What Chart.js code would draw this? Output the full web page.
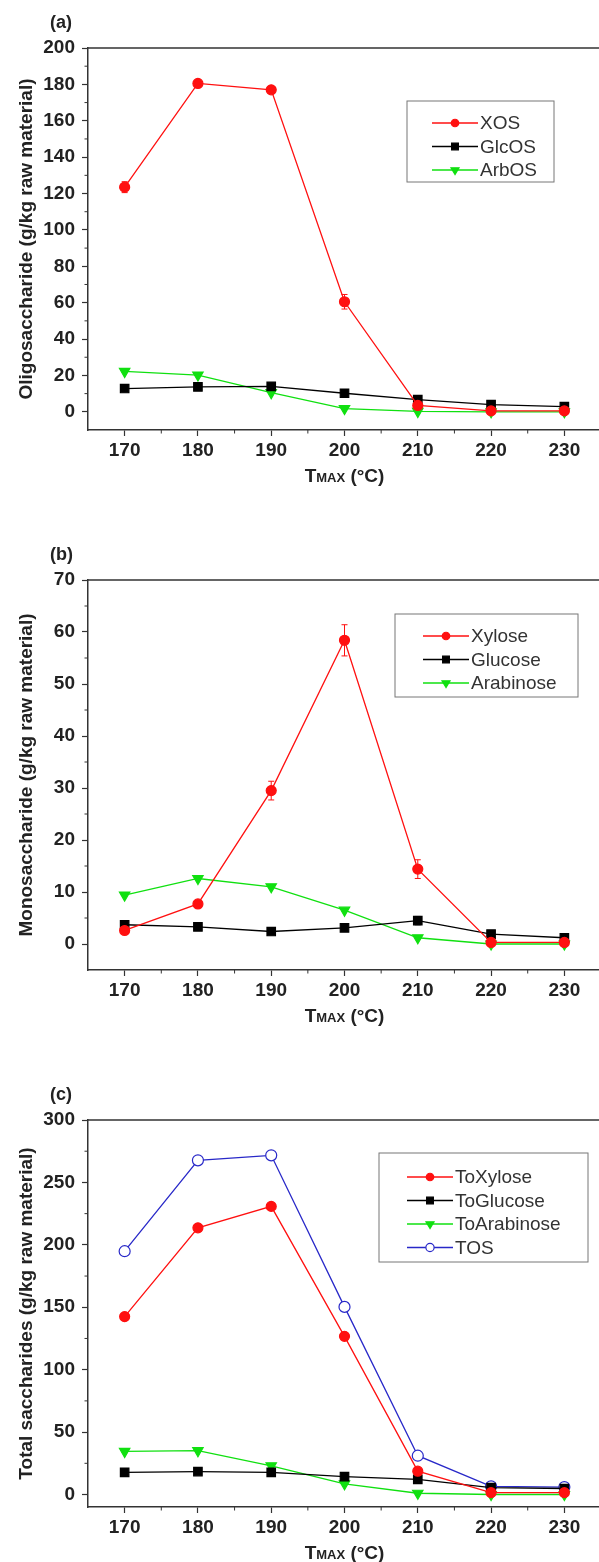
<!DOCTYPE html>
<html>
<head>
<meta charset="utf-8">
<script src="https://cdn.jsdelivr.net/npm/chart.js@4.4.1/dist/chart.umd.min.js"></script>
<style>
  html, body { margin: 0; padding: 0; background: #fff; }
  #page { position: relative; width: 599px; height: 1562px; overflow: hidden; background: #fff; }
  .panel { position: absolute; left: 0; }
</style>
</head>
<body>
<div id="page">
  <canvas id="chartA" class="panel" style="top:0" width="610" height="520"></canvas>
  <canvas id="chartB" class="panel" style="top:520px" width="610" height="540"></canvas>
  <canvas id="chartC" class="panel" style="top:1060px" width="610" height="502"></canvas>
</div>
<script>
// temperatures (x axis)
const temps = [170, 180, 190, 200, 210, 220, 230];
const xTicks = [170, 180, 190, 200, 210, 220, 230];
const xMinor = [175, 185, 195, 205, 215, 225];

// (a) oligosaccharides, g/kg raw material
const xos = [123.5, 180.5, 177, 60.5, 3.5, 0.5, 0.5];
const xosErr = [3, 2, 1.5, 4, 1, 0, 0];
const glcos = [12.8, 13.7, 14, 10.2, 6.7, 3.9, 2.9];
const arbos = [22.2, 20.2, 10.5, 1.8, 0.2, 0, 0];
const yTicksA = [0, 20, 40, 60, 80, 100, 120, 140, 160, 180, 200];
const yMinorA = [10, 30, 50, 70, 90, 110, 130, 150, 170, 190];

// (b) monosaccharides
const xylose = [2.6, 7.7, 29.5, 58.4, 14.4, 0.3, 0.3];
const xyloseErr = [0.5, 0.5, 1.8, 3, 1.8, 0.2, 0.2];
const glucose = [3.7, 3.3, 2.4, 3.1, 4.5, 1.9, 1.2];
const glucoseErr = [0.4, 0.3, 0.3, 0.6, 0.8, 0.3, 0.2];
const arabinose = [9.4, 12.6, 11.0, 6.5, 1.2, 0, 0];
const yTicksB = [0, 10, 20, 30, 40, 50, 60, 70];
const yMinorB = [5, 15, 25, 35, 45, 55, 65];

// (c) total saccharides
const toXylose = [142.5, 213.6, 230.8, 126.7, 18.7, 1.5, 1.5];
const toGlucose = [17.8, 18.4, 17.8, 14.4, 12.1, 5.5, 4.8];
const toArabinose = [34.5, 35.1, 23, 8.6, 1, 0, 0];
const tos = [194.9, 267.7, 271.7, 150.3, 31.1, 6.6, 6];
const yTicksC = [0, 50, 100, 150, 200, 250, 300];
const yMinorC = [25, 75, 125, 175, 225, 275];

const FONT = "'Liberation Sans', Arial, sans-serif";
Chart.defaults.font.family = FONT;
Chart.defaults.color = '#222';

const RED = '#ff1010', BLACK = '#000000', GREEN = '#10e010', BLUE = '#2828c8';

function pts(arr) {
    return temps.map((t, i) => ({ x: t, y: arr[i] }));
}

function drawMarker(ctx, style, x, y, r, fill, stroke, rot) {
    ctx.save();
    ctx.fillStyle = fill;
    ctx.strokeStyle = stroke;
    ctx.lineWidth = 1.2;
    ctx.beginPath();
    if (style === 'rect') {
        const s = r * 0.75;
        ctx.rect(x - s, y - s, 2 * s, 2 * s);
    } else if (style === 'triangle') {
        const d = rot ? 1 : -1;
        ctx.moveTo(x, y + d * r);
        ctx.lineTo(x - r * 0.9, y - d * r * 0.5);
        ctx.lineTo(x + r * 0.9, y - d * r * 0.5);
        ctx.closePath();
    } else {
        ctx.arc(x, y, r, 0, Math.PI * 2);
    }
    ctx.fill();
    ctx.stroke();
    ctx.restore();
}

function series(label, data, color, style, radius, err, hollow) {
    return {
        label: label,
        data: pts(data),
        errorBars: err || null,
        borderColor: color,
        backgroundColor: hollow ? '#ffffff' : color,
        pointBackgroundColor: hollow ? '#ffffff' : color,
        pointBorderColor: color,
        pointStyle: style,
        pointRotation: style === 'triangle' ? 180 : 0,
        pointRadius: radius,
        pointBorderWidth: 1.2,
        borderWidth: 1.3,
        tension: 0
    };
}

function makePanel(id, cfg) {
    const decor = {
        id: 'decor_' + id,
        beforeDatasetsDraw(chart) {
            const ctx = chart.ctx;
            const xs = chart.scales.x, ys = chart.scales.y;
            chart.data.datasets.forEach(ds => {
                if (!ds.errorBars) return;
                ctx.save();
                ctx.strokeStyle = ds.borderColor;
                ctx.lineWidth = 1;
                ds.data.forEach((p, i) => {
                    const e = ds.errorBars[i];
                    if (!e) return;
                    const x = xs.getPixelForValue(p.x);
                    const y1 = ys.getPixelForValue(p.y + e);
                    const y2 = ys.getPixelForValue(p.y - e);
                    ctx.beginPath();
                    ctx.moveTo(x, y1); ctx.lineTo(x, y2);
                    ctx.moveTo(x - 3, y1); ctx.lineTo(x + 3, y1);
                    ctx.moveTo(x - 3, y2); ctx.lineTo(x + 3, y2);
                    ctx.stroke();
                });
                ctx.restore();
            });
        },
        afterDraw(chart) {
            const ctx = chart.ctx;
            const a = chart.chartArea;
            const xs = chart.scales.x, ys = chart.scales.y;
            ctx.save();
            // top and right frame
            ctx.strokeStyle = '#333';
            ctx.lineWidth = 1.5;
            ctx.beginPath();
            ctx.moveTo(a.left, a.top);
            ctx.lineTo(a.right, a.top);
            ctx.lineTo(a.right, a.bottom);
            ctx.stroke();

            // minor ticks
            ctx.lineWidth = 1;
            ctx.beginPath();
            xMinor.forEach(v => {
                const x = xs.getPixelForValue(v);
                ctx.moveTo(x, a.bottom);
                ctx.lineTo(x, a.bottom + 3.5);
            });
            cfg.yMinor.forEach(v => {
                const y = ys.getPixelForValue(v);
                ctx.moveTo(a.left - 3.5, y);
                ctx.lineTo(a.left, y);
            });
            ctx.stroke();

            // legend box
            const L = cfg.legend;
            const bx = a.left + L.dx, by = a.top + L.dy;
            ctx.strokeStyle = '#777';
            ctx.lineWidth = 1;
            ctx.strokeRect(bx, by, L.w, L.h);
            ctx.font = '19px ' + FONT;
            ctx.textBaseline = 'middle';
            ctx.textAlign = 'left';
            chart.data.datasets.forEach((ds, i) => {
                const y = by + L.first + i * 23.5;
                const x0 = bx + L.sx, x1 = x0 + 46;
                ctx.strokeStyle = ds.borderColor;
                ctx.lineWidth = 1.3;
                ctx.beginPath();
                ctx.moveTo(x0, y);
                ctx.lineTo(x1, y);
                ctx.stroke();
                drawMarker(ctx, ds.pointStyle, (x0 + x1) / 2, y, ds.pointRadius * 0.75,
                    ds.pointBackgroundColor, ds.borderColor, ds.pointRotation);
                ctx.fillStyle = '#333';
                ctx.fillText(ds.label, x1 + 2, y + 1);
            });

            // panel letter
            ctx.fillStyle = '#222';
            ctx.font = 'bold 18px ' + FONT;
            ctx.textBaseline = 'middle';
            ctx.fillText(cfg.letter, 50, a.top - 25);

            // x axis title: T with small-caps MAX
            const big = 'bold 19px ' + FONT, small = 'bold 13px ' + FONT;
            const parts = [['T', big], ['MAX', small], [' (\u00B0C)', big]];
            let total = 0;
            parts.forEach(p => { ctx.font = p[1]; total += ctx.measureText(p[0]).width; });
            let tx = (a.left + a.right) / 2 - total / 2;
            const ty = a.bottom + 52;
            ctx.textBaseline = 'alphabetic';
            parts.forEach(p => {
                ctx.font = p[1];
                ctx.fillText(p[0], tx, ty);
                tx += ctx.measureText(p[0]).width;
            });
            ctx.restore();
        }
    };

    return new Chart(document.getElementById(id), {
        type: 'line',
        data: { datasets: cfg.datasets },
        options: {
            responsive: false,
            animation: false,
            layout: { padding: { top: cfg.top, right: 9, bottom: cfg.bottom, left: 0 } },
            plugins: { legend: { display: false }, tooltip: { enabled: false } },
            scales: {
                x: {
                    type: 'linear',
                    min: 165,
                    max: 235,
                    afterBuildTicks: s => { s.ticks = xTicks.map(v => ({ value: v })); },
                    afterFit: s => { s.height = 45; },
                    border: { display: true, color: '#333', width: 1.5 },
                    grid: { drawOnChartArea: false, drawTicks: true, tickLength: 6, tickColor: '#333', tickWidth: 1.2 },
                    ticks: { font: { size: 19, weight: 'bold' }, color: '#222', padding: 3, maxRotation: 0, autoSkip: false }
                },
                y: {
                    min: cfg.yMin,
                    max: cfg.yMax,
                    afterBuildTicks: s => { s.ticks = cfg.yTicks.map(v => ({ value: v })); },
                    afterFit: s => { s.width = 88; },
                    border: { display: true, color: '#333', width: 1.5 },
                    grid: { drawOnChartArea: false, drawTicks: true, tickLength: 6, tickColor: '#333', tickWidth: 1.2 },
                    ticks: { font: { size: 19, weight: 'bold' }, color: '#222', padding: 7 },
                    title: {
                        display: true,
                        text: cfg.yTitle,
                        font: { size: 19, weight: 'bold' },
                        color: '#222',
                        padding: { top: 15, bottom: 0 }
                    }
                }
            }
        },
        plugins: [decor]
    });
}

makePanel('chartA', {
    letter: '(a)',
    top: 48, bottom: 45,
    yMin: -10, yMax: 200, yTicks: yTicksA, yMinor: yMinorA,
    yTitle: 'Oligosaccharide (g/kg raw material)',
    legend: { dx: 319, dy: 53, w: 147, h: 81, first: 22, sx: 25 },
    datasets: [
        series('XOS', xos, RED, 'circle', 5, xosErr),
        series('GlcOS', glcos, BLACK, 'rect', 6),
        series('ArbOS', arbos, GREEN, 'triangle', 6)
    ]
});

makePanel('chartB', {
    letter: '(b)',
    top: 60, bottom: 45,
    yMin: -5, yMax: 70, yTicks: yTicksB, yMinor: yMinorB,
    yTitle: 'Monosaccharide (g/kg raw material)',
    legend: { dx: 307, dy: 34, w: 183, h: 83, first: 22, sx: 28 },
    datasets: [
        series('Xylose', xylose, RED, 'circle', 5, xyloseErr),
        series('Glucose', glucose, BLACK, 'rect', 6, glucoseErr),
        series('Arabinose', arabinose, GREEN, 'triangle', 6)
    ]
});

makePanel('chartC', {
    letter: '(c)',
    top: 60, bottom: 10,
    yMin: -10, yMax: 300, yTicks: yTicksC, yMinor: yMinorC,
    yTitle: 'Total saccharides (g/kg raw material)',
    legend: { dx: 291, dy: 33, w: 209, h: 109, first: 24, sx: 28 },
    datasets: [
        series('ToXylose', toXylose, RED, 'circle', 5),
        series('ToGlucose', toGlucose, BLACK, 'rect', 6),
        series('ToArabinose', toArabinose, GREEN, 'triangle', 6),
        series('TOS', tos, BLUE, 'circle', 5.5, null, true)
    ]
});
</script>
</body>
</html>
